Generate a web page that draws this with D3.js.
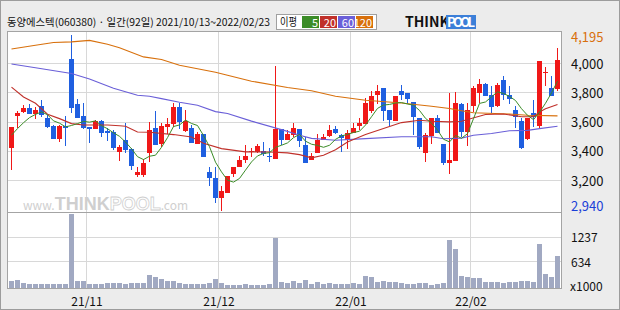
<!DOCTYPE html>
<html><head><meta charset="utf-8">
<script src="https://cdn.jsdelivr.net/npm/d3@7"></script>
<style>
body{margin:0;background:#fff}
svg{display:block}
text{font-family:"Noto Sans CJK KR","Noto Sans",sans-serif}
</style>
</head><body><script>
// trading days 2021/10/13 ~ 2022/02/23 (92)
var dates = ["10/13","10/14","10/15","10/18","10/19","10/20","10/21","10/22","10/25","10/26","10/27","10/28","10/29",
"11/01","11/02","11/03","11/04","11/05","11/08","11/09","11/10","11/11","11/12","11/15","11/16","11/17","11/18","11/19","11/22","11/23","11/24","11/25","11/26","11/29","11/30",
"12/01","12/02","12/03","12/06","12/07","12/08","12/09","12/10","12/13","12/14","12/15","12/16","12/17","12/20","12/21","12/22","12/23","12/24","12/27","12/28","12/29","12/30",
"01/03","01/04","01/05","01/06","01/07","01/10","01/11","01/12","01/13","01/14","01/17","01/18","01/19","01/20","01/21","01/24","01/25","01/26","01/27","01/28",
"02/03","02/04","02/07","02/08","02/09","02/10","02/11","02/14","02/15","02/16","02/17","02/18","02/21","02/22","02/23"];

var open  = [3420,3640,3665,3695,3655,3710,3625,3575,3485,3575,4030,3725,3640,3565,3550,3610,3540,3530,3395,3480,3415,3235,3235,3385,3560,3445,3565,3585,3700,3545,3560,3450,3515,3255,3220,3080,3115,3245,3290,3340,3395,3395,3400,3370,3345,3550,3475,3515,3555,3440,3345,3385,3475,3505,3550,3510,3475,3525,3570,3585,3670,3780,3835,3680,3610,3815,3800,3735,3625,3385,3500,3625,3450,3320,3335,3720,3530,3710,3800,3860,3785,3705,3885,3785,3685,3610,3480,3660,3570,3940,3835,3825];
var high  = [3565,3675,3715,3720,3700,3750,3645,3580,3580,3640,4195,3760,3730,3565,3615,3615,3560,3545,3440,3590,3420,3290,3350,3600,3675,3590,3625,3730,3730,3680,3580,3530,3515,3290,3290,3160,3230,3295,3365,3440,3425,3450,3460,3425,3985,3550,3545,3590,3555,3495,3385,3515,3515,3580,3575,3515,3545,3595,3625,3765,3815,3850,3835,3680,3780,3850,3800,3735,3625,3525,3625,3650,3450,3795,3805,3730,3730,3845,3895,3865,3845,3865,3915,3845,3710,3630,3625,3750,4015,3975,3915,4105];
var low   = [3270,3560,3660,3655,3620,3635,3560,3485,3465,3435,3660,3625,3555,3455,3550,3495,3470,3410,3335,3390,3270,3225,3225,3325,3440,3430,3520,3565,3550,3530,3455,3450,3360,3160,3045,2990,3115,3225,3290,3320,3360,3385,3370,3325,3345,3440,3475,3500,3430,3320,3340,3385,3475,3495,3515,3395,3415,3525,3545,3585,3660,3720,3610,3570,3610,3750,3720,3510,3415,3325,3450,3525,3305,3245,3335,3495,3435,3670,3730,3780,3660,3705,3750,3720,3560,3415,3480,3565,3550,3845,3780,3815];
var close = [3565,3660,3695,3655,3685,3650,3565,3485,3575,3560,3695,3630,3560,3550,3605,3530,3525,3420,3430,3410,3300,3255,3320,3545,3445,3570,3585,3700,3600,3610,3455,3515,3360,3215,3080,3125,3230,3295,3340,3365,3405,3435,3380,3365,3550,3475,3515,3560,3475,3320,3370,3475,3495,3545,3520,3490,3525,3560,3590,3730,3775,3810,3675,3610,3780,3790,3760,3635,3430,3510,3625,3525,3320,3340,3730,3530,3680,3835,3860,3780,3705,3850,3780,3760,3640,3425,3625,3630,4015,3945,3780,4025];
// volume, x1000
var volume = [176,200,128,104,104,104,104,104,88,104,1792,176,168,104,104,104,128,128,128,104,128,128,128,304,256,224,176,160,128,104,104,104,104,128,224,128,80,80,80,104,80,80,80,104,1220,152,128,176,128,200,104,152,104,128,104,104,104,120,104,297,273,152,176,145,152,120,104,104,120,120,80,104,128,1165,948,297,273,232,232,144,144,144,128,152,152,176,176,152,1068,345,256,786];

// moving averages
var ma5 = [3510,3555,3595,3630,3652,3669,3650,3608,3592,3567,3576,3589,3604,3599,3608,3575,3554,3526,3502,3463,3417,3363,3343,3366,3373,3427,3493,3569,3580,3613,3590,3576,3508,3431,3325,3259,3202,3189,3214,3271,3327,3368,3385,3390,3427,3441,3457,3493,3515,3469,3448,3440,3427,3441,3481,3505,3515,3528,3537,3579,3636,3693,3716,3720,3730,3733,3723,3715,3679,3625,3592,3545,3482,3464,3508,3489,3520,3623,3727,3737,3772,3806,3795,3775,3747,3691,3646,3616,3667,3728,3799,3879];
var ma20 = [[0,3838],[2,3771],[4,3728],[6,3653],[8,3623],[10,3589],[12,3579],[16,3579],[18,3574],[19,3571],[21,3532],[23,3530],[27,3514],[30,3497],[32,3454],[35,3418],[39,3396],[43,3395],[46,3389],[48,3377],[50,3355],[52,3372],[54,3410],[56,3463],[59,3514],[62,3555],[65,3596],[68,3612],[70,3605],[73,3601],[75,3605],[79,3651],[82,3655],[85,3636],[87,3636],[88,3669],[89,3690],[91,3720]];
var ma60 = [[0,3997],[4,3971],[10,3932],[13,3894],[17,3831],[21,3783],[23,3776],[25,3760],[28,3735],[31,3714],[34,3671],[36,3658],[40,3606],[46,3536],[48,3509],[50,3488],[54,3475],[59,3486],[65,3499],[70,3499],[72,3485],[75,3490],[77,3509],[80,3521],[83,3540],[86,3543],[88,3555],[91,3571]];
var ma120 = [[0,4099],[4,4125],[7,4144],[10,4148],[13,4158],[16,4132],[18,4108],[22,4045],[25,4027],[28,3988],[34,3940],[36,3920],[40,3879],[46,3836],[50,3814],[54,3776],[59,3749],[65,3730],[70,3708],[73,3692],[75,3677],[77,3663],[83,3655],[86,3646],[91,3642]];

var priceTicks = [3200,3400,3600,3800,4000];
var volTicks = [634,1237];
var monthTicks = ["11/01","12/01","01/03","02/03"];
var monthLabels = ["21/11","21/12","22/01","22/02"];
var maNames = ["5","20","60","120"];
var maColors = ["#3c8c28","#c0302a","#6a5fd8","#d8700c"];

var W = 620, H = 310;
var L = 7, R = 561, PT = 31, PB = 212, VB = 288;
var UP = "#f01818", DOWN = "#1f5fe0";

var svg = d3.select("body").append("svg").attr("width", W).attr("height", H);

svg.append("rect").attr("width", W).attr("height", H).attr("fill", "#ececec");
svg.append("rect").attr("x", 0.5).attr("y", 0.5).attr("width", W - 1).attr("height", H - 1)
  .attr("fill", "none").attr("stroke", "#9c9c9c");
svg.append("rect").attr("x", L + 0.5).attr("y", PT + 0.5).attr("width", R - L).attr("height", VB - PT)
  .attr("fill", "#fff");

var x = d3.scaleBand().domain(dates).range([8, 560]);
var cx = function(i){ return x(dates[i]) + 3.5; };
var y = d3.scaleLinear().domain([3200, 4000]).range([180.5, 63.5]);
var yv = d3.scaleLinear().domain([0, 1237]).range([VB, 237]);
var crisp = function(v){ return Math.round(v - 0.5) + 0.5; };

svg.append("clipPath").attr("id", "pc").append("rect")
  .attr("x", L + 1).attr("y", PT + 1).attr("width", R - L - 1).attr("height", PB - PT - 1);

// grid
svg.selectAll(".hg").data(priceTicks).enter().append("line")
  .attr("x1", L).attr("x2", R).attr("y1", function(d){ return crisp(y(d)); }).attr("y2", function(d){ return crisp(y(d)); })
  .attr("stroke", "#d8d8d8");
svg.selectAll(".vg").data(volTicks).enter().append("line")
  .attr("x1", L).attr("x2", R).attr("y1", function(d){ return crisp(yv(d)); }).attr("y2", function(d){ return crisp(yv(d)); })
  .attr("stroke", "#d8d8d8");
svg.selectAll(".mg").data(monthTicks).enter().append("line")
  .attr("x1", function(d){ return x(d) + 0.5; }).attr("x2", function(d){ return x(d) + 0.5; })
  .attr("y1", PT).attr("y2", VB).attr("stroke", "#d8d8d8");

// watermark
var wm = svg.append("text").attr("x", 23).attr("y", 210).attr("fill", "#cfcfcf");
wm.append("tspan").attr("font-size", 12).text("www.");
wm.append("tspan").attr("font-size", 18).attr("font-weight", "bold").attr("font-family", "Liberation Sans").text("THINK");
wm.append("tspan").attr("font-size", 18).attr("font-weight", "bold").attr("font-family", "Liberation Sans")
  .attr("fill", "#fff").attr("stroke", "#cfcfcf").attr("stroke-width", 0.8).text("POOL");
wm.append("tspan").attr("font-size", 12).text(".com");

var pg = svg.append("g").attr("clip-path", "url(#pc)");

// candles
var idx = d3.range(dates.length);
var cg = pg.selectAll(".c").data(idx).enter().append("g");
cg.append("line")
  .attr("x1", function(i){ return cx(i); }).attr("x2", function(i){ return cx(i); })
  .attr("y1", function(i){ return Math.round(y(high[i])); }).attr("y2", function(i){ return Math.round(y(low[i])); })
  .attr("stroke", function(i){ return close[i] >= open[i] ? UP : DOWN; });
cg.append("rect")
  .attr("x", function(i){ return x(dates[i]) + 1; }).attr("width", 5)
  .attr("y", function(i){ return Math.round(y(Math.max(open[i], close[i]))); })
  .attr("height", function(i){ return Math.max(1, Math.round(y(Math.min(open[i], close[i])) - y(Math.max(open[i], close[i])))); })
  .attr("fill", function(i){ return close[i] >= open[i] ? UP : DOWN; });

// moving averages
var line = d3.line().x(function(d){ return cx(d[0]); }).y(function(d){ return y(d[1]); });
[ma120, ma60, ma20].forEach(function(s, k){
  pg.append("path").attr("d", line(s)).attr("fill", "none")
    .attr("stroke", maColors[3 - k]).attr("stroke-width", 1.1);
});
pg.append("path").attr("d", line(ma5.map(function(v, i){ return [i, v]; })))
  .attr("fill", "none").attr("stroke", maColors[0]).attr("stroke-width", 1);

// volume
svg.selectAll(".v").data(idx).enter().append("rect")
  .attr("x", function(i){ return x(dates[i]) + 1; }).attr("width", 5)
  .attr("y", function(i){ return Math.round(yv(volume[i])); })
  .attr("height", function(i){ return VB - Math.round(yv(volume[i])); })
  .attr("fill", "#a1a9c2");

// frames
svg.append("rect").attr("x", L + 0.5).attr("y", PT + 0.5).attr("width", R - L).attr("height", VB - PT)
  .attr("fill", "none").attr("stroke", "#a4a4a4");
svg.append("line").attr("x1", L).attr("x2", R).attr("y1", PB + 0.5).attr("y2", PB + 0.5).attr("stroke", "#a4a4a4");

// axis labels
var fmt = d3.format(",");
svg.selectAll(".pl").data(priceTicks).enter().append("text")
  .attr("x", 571).attr("y", function(d){ return y(d) + 5; })
  .attr("font-size", 13).attr("font-family", "Liberation Sans").attr("fill", "#111").text(function(d){ return fmt(d); });
var hi = d3.max(high), lo = 2940;
svg.append("text").attr("x", 571).attr("y", y(hi) + 7).attr("font-size", 13).attr("font-family", "Liberation Sans")
  .attr("fill", "#d8700c").text(fmt(hi));
svg.append("text").attr("x", 571).attr("y", PB - 1).attr("font-size", 13).attr("font-family", "Liberation Sans")
  .attr("fill", "#1a3fd8").text(fmt(lo));
svg.selectAll(".vl").data(volTicks).enter().append("text")
  .attr("x", 571).attr("y", function(d){ return yv(d) + 5; })
  .attr("font-size", 12).attr("font-family", "Liberation Sans").attr("fill", "#111").text(function(d){ return d; });
svg.append("text").attr("x", 570).attr("y", VB + 3).attr("font-size", 12).attr("font-family", "Liberation Sans")
  .attr("fill", "#111").text("x1000");
svg.selectAll(".ml").data(monthTicks).enter().append("text")
  .attr("x", function(d){ return x(d) + 1; }).attr("y", 306).attr("text-anchor", "middle")
  .attr("font-size", 12).attr("font-family", "Liberation Sans").attr("fill", "#111")
  .text(function(d, i){ return monthLabels[i]; });

// header
svg.append("text").attr("x", 7).attr("y", 26).attr("font-size", 10.4).attr("fill", "#111")
  .attr("textLength", 263).attr("lengthAdjust", "spacingAndGlyphs")
  .text("동양에스텍(060380) · 일간(92일) 2021/10/13~2022/02/23");

// legend
svg.append("rect").attr("x", 276.5).attr("y", 14.5).attr("width", 100).attr("height", 15)
  .attr("fill", "#fff").attr("stroke", "#a0a0a0");
svg.append("text").attr("x", 280).attr("y", 26).attr("font-size", 11).attr("fill", "#111")
  .attr("textLength", 17).attr("lengthAdjust", "spacingAndGlyphs").text("이평");
var lg = svg.selectAll(".lg").data(maNames).enter().append("g")
  .attr("transform", function(d, i){ return "translate(" + (302 + i * 18) + ",16)"; });
lg.append("rect").attr("width", 17).attr("height", 12).attr("fill", function(d, i){ return maColors[i]; });
lg.append("text").attr("x", 16).attr("y", 10.5).attr("text-anchor", "end").attr("font-size", 11)
  .attr("font-family", "Liberation Sans").attr("fill", "#fff").text(function(d){ return d; });

// logo
svg.append("text").attr("x", 405).attr("y", 27).attr("font-size", 14).attr("font-weight", "bold")
  .attr("font-family", "Liberation Sans").attr("fill", "#111").text("THINK");
svg.append("rect").attr("x", 446).attr("y", 15).attr("width", 30).attr("height", 14).attr("fill", "#3c7fd8");
svg.append("text").attr("x", 447).attr("y", 27).attr("font-size", 13).attr("font-weight", "bold")
  .attr("font-family", "Liberation Sans").attr("fill", "#fff").attr("textLength", 28).text("POOL");
</script></body></html>
